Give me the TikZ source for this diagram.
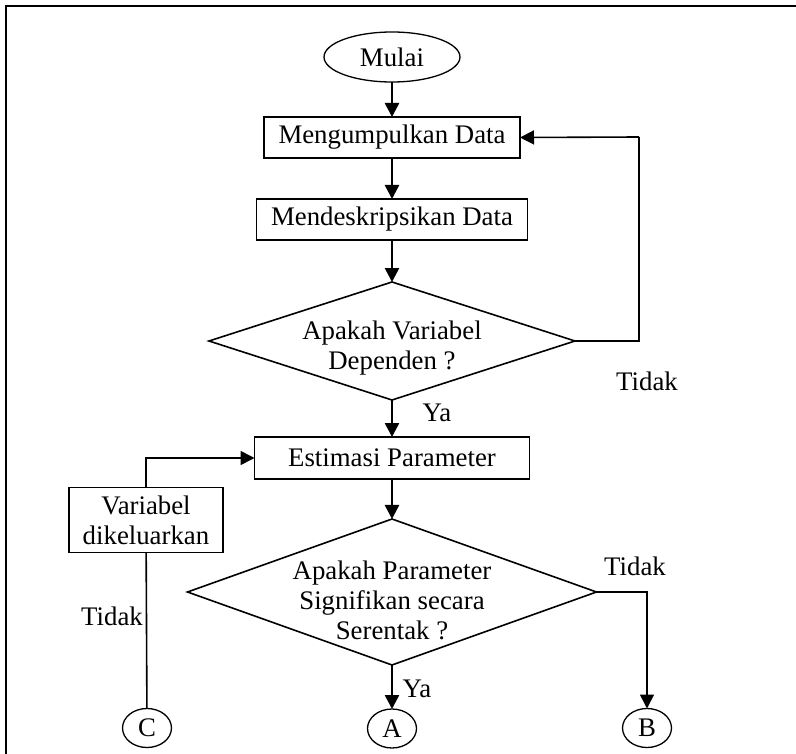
\documentclass[tikz,border=0pt]{standalone}
\usepackage{fontspec}
\setmainfont{Liberation Serif}
\usetikzlibrary{positioning,shapes.geometric,arrows.meta}

\begin{document}
\begin{tikzpicture}[x=1pt,y=-1pt,font=\fontsize{26.8}{30}\selectfont,outer sep=0pt,
						box/.style={rectangle,draw,line width=1.6pt,inner sep=0pt,minimum height=41pt},
						terminal/.style={ellipse,draw,line width=1.3pt,inner sep=0pt},
						decision/.style={diamond,draw,line width=1.6pt,inner sep=0pt},
						connector/.style={ellipse,draw,line width=1.3pt,inner sep=0pt,minimum width=49pt,minimum height=39pt},
						arrow/.style={line width=2.6pt,-{Triangle[length=14pt,width=14pt]}},
						flowline/.style={line width=1.6pt}]
		\useasboundingbox (0,0) rectangle (796,754);
		\draw[line width=2pt] (6,754) -- (6,6) -- (796,6);

		\node[terminal,minimum width=136pt,minimum height=50pt]	(mulai)	at (392,57)	{Mulai};
		\node[box,minimum width=256pt,below=35pt of mulai]		(kumpul)		{Mengumpulkan Data};
		\node[box,minimum width=271pt,below=41pt of kumpul]		(deskripsi)	{Mendeskripsikan Data};
		\node[decision,minimum width=366pt,minimum height=118pt,below=42pt of deskripsi,
			label={[align=center,yshift=-7pt]center:Apakah Variabel\\Dependen ?}]	(dependen)	{};
		\node[box,minimum width=275pt,minimum height=42pt,below=37pt of dependen]	(estimasi)	{Estimasi Parameter};
		\node[decision,minimum width=409pt,minimum height=146pt,below=40pt of estimasi,
			label={[align=center,yshift=-8pt]center:Apakah Parameter\\Signifikan secara\\Serentak ?}]	(serentak)	{};
		\node[connector,below=44pt of serentak]	(A)	{A};
		\node[connector]	(B)	at (647,728)	{B};
		\node[connector]	(C)	at (147,728)	{C};
		\node[box,minimum width=154pt,minimum height=65pt,align=center]	(keluar)	at (146,520)	{Variabel\\dikeluarkan};

		\node[inner sep=0pt]	(ya1)		at (437,413)	{Ya};
		\node[inner sep=0pt]	(ya2)		at (417,689)	{Ya};
		\node[inner sep=0pt]	(tidak1)	at (647,381)	{Tidak};
		\node[inner sep=0pt]	(tidak2)	at (635,566)	{Tidak};
		\node[inner sep=0pt]	(tidak3)	at (112,616)	{Tidak};
		\coordinate	(balik)	at (639,137);

		\draw[arrow] (mulai) -- (kumpul);
		\draw[arrow] (kumpul) -- (deskripsi);
		\draw[arrow] (deskripsi) -- (dependen);
		\draw[arrow] (dependen) -- (estimasi);
		\draw[arrow] (estimasi) -- (serentak);
		\draw[arrow] (serentak) -- (A);
		\draw[flowline] (dependen.east) -| (balik);
		\draw[flowline,arrow,line width=1.6pt] (balik) -- (kumpul.east);
		\draw[flowline,arrow,line width=1.6pt] (keluar.north) |- (estimasi.west);
		\draw[flowline] (C) -- (keluar);
		\draw[flowline,arrow,line width=1.6pt] (serentak.east) -| (B.north);
	\end{tikzpicture}
\end{document}
